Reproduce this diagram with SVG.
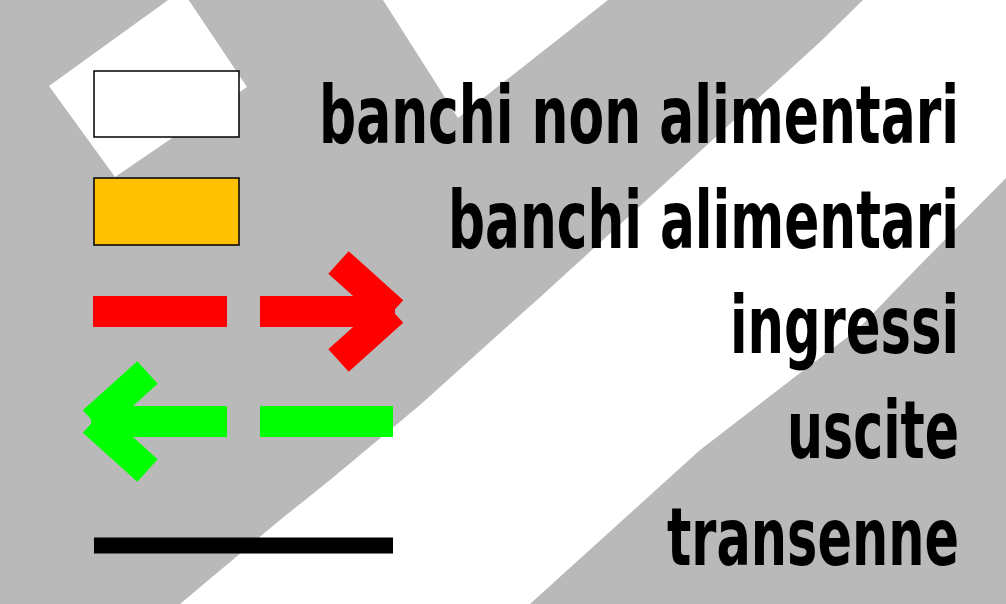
<svg xmlns="http://www.w3.org/2000/svg" width="1006" height="604" viewBox="0 0 1006 604">
  <style>
    .bg { fill: #b9b9b9; }
    .white { fill: #ffffff; }
    .label { font-family: "Liberation Sans Narrow", "DejaVu Sans Condensed", "Liberation Sans", sans-serif; font-weight: bold; font-size: 80px; fill: #000000; text-anchor: end; }
    .arm-red { stroke: #ff0000; stroke-width: 30.5; stroke-linecap: butt; fill: none; }
    .arm-green { stroke: #00ff00; stroke-width: 30.5; stroke-linecap: butt; fill: none; }
  </style>
  <g id="background">
    <rect class="bg" x="0" y="0" width="1006" height="604"/>
    <polygon class="white" points="49,86 182,-10 247,87 115,177"/>
    <polygon class="white" points="383,0 608,0 458,118"/>
    <polygon class="white" points="863,0 1006,0 1006,178 917,268 857,330 800,373 700,450 530,604 180,604 280,520 330,480 420,405 500,333 537,300 820,42"/>
  </g>
  <g id="legend-banchi-non-alimentari">
    <rect x="94" y="71" width="145" height="66" fill="#ffffff" stroke="#000000" stroke-width="1.5"/>
    <text class="label" x="959" y="143" textLength="640" lengthAdjust="spacingAndGlyphs">banchi non alimentari</text>
  </g>
  <g id="legend-banchi-alimentari">
    <rect x="94" y="178" width="145" height="67" fill="#ffc000" stroke="#000000" stroke-width="1.5"/>
    <text class="label" x="959" y="248" textLength="511" lengthAdjust="spacingAndGlyphs">banchi alimentari</text>
  </g>
  <g id="legend-ingressi">
    <rect x="93" y="296" width="134" height="31" fill="#ff0000"/>
    <rect x="260" y="296" width="135" height="31" fill="#ff0000"/>
    <line class="arm-red" x1="338.5" y1="262.5" x2="393" y2="311.5"/>
    <line class="arm-red" x1="338.5" y1="360.5" x2="393" y2="311.5"/>
    <text class="label" x="959" y="353" textLength="229" lengthAdjust="spacingAndGlyphs">ingressi</text>
  </g>
  <g id="legend-uscite">
    <rect x="91" y="406" width="136" height="31" fill="#00ff00"/>
    <rect x="260" y="406" width="133" height="31" fill="#00ff00"/>
    <line class="arm-green" x1="147.5" y1="372.5" x2="93" y2="421.5"/>
    <line class="arm-green" x1="147.5" y1="470.5" x2="93" y2="421.5"/>
    <text class="label" x="959" y="458" textLength="172" lengthAdjust="spacingAndGlyphs">uscite</text>
  </g>
  <g id="legend-transenne">
    <rect x="94" y="537.5" width="299" height="16" fill="#000000"/>
    <text class="label" x="959" y="565" textLength="292" lengthAdjust="spacingAndGlyphs">transenne</text>
  </g>
  <g id="connectors"/>
</svg>
